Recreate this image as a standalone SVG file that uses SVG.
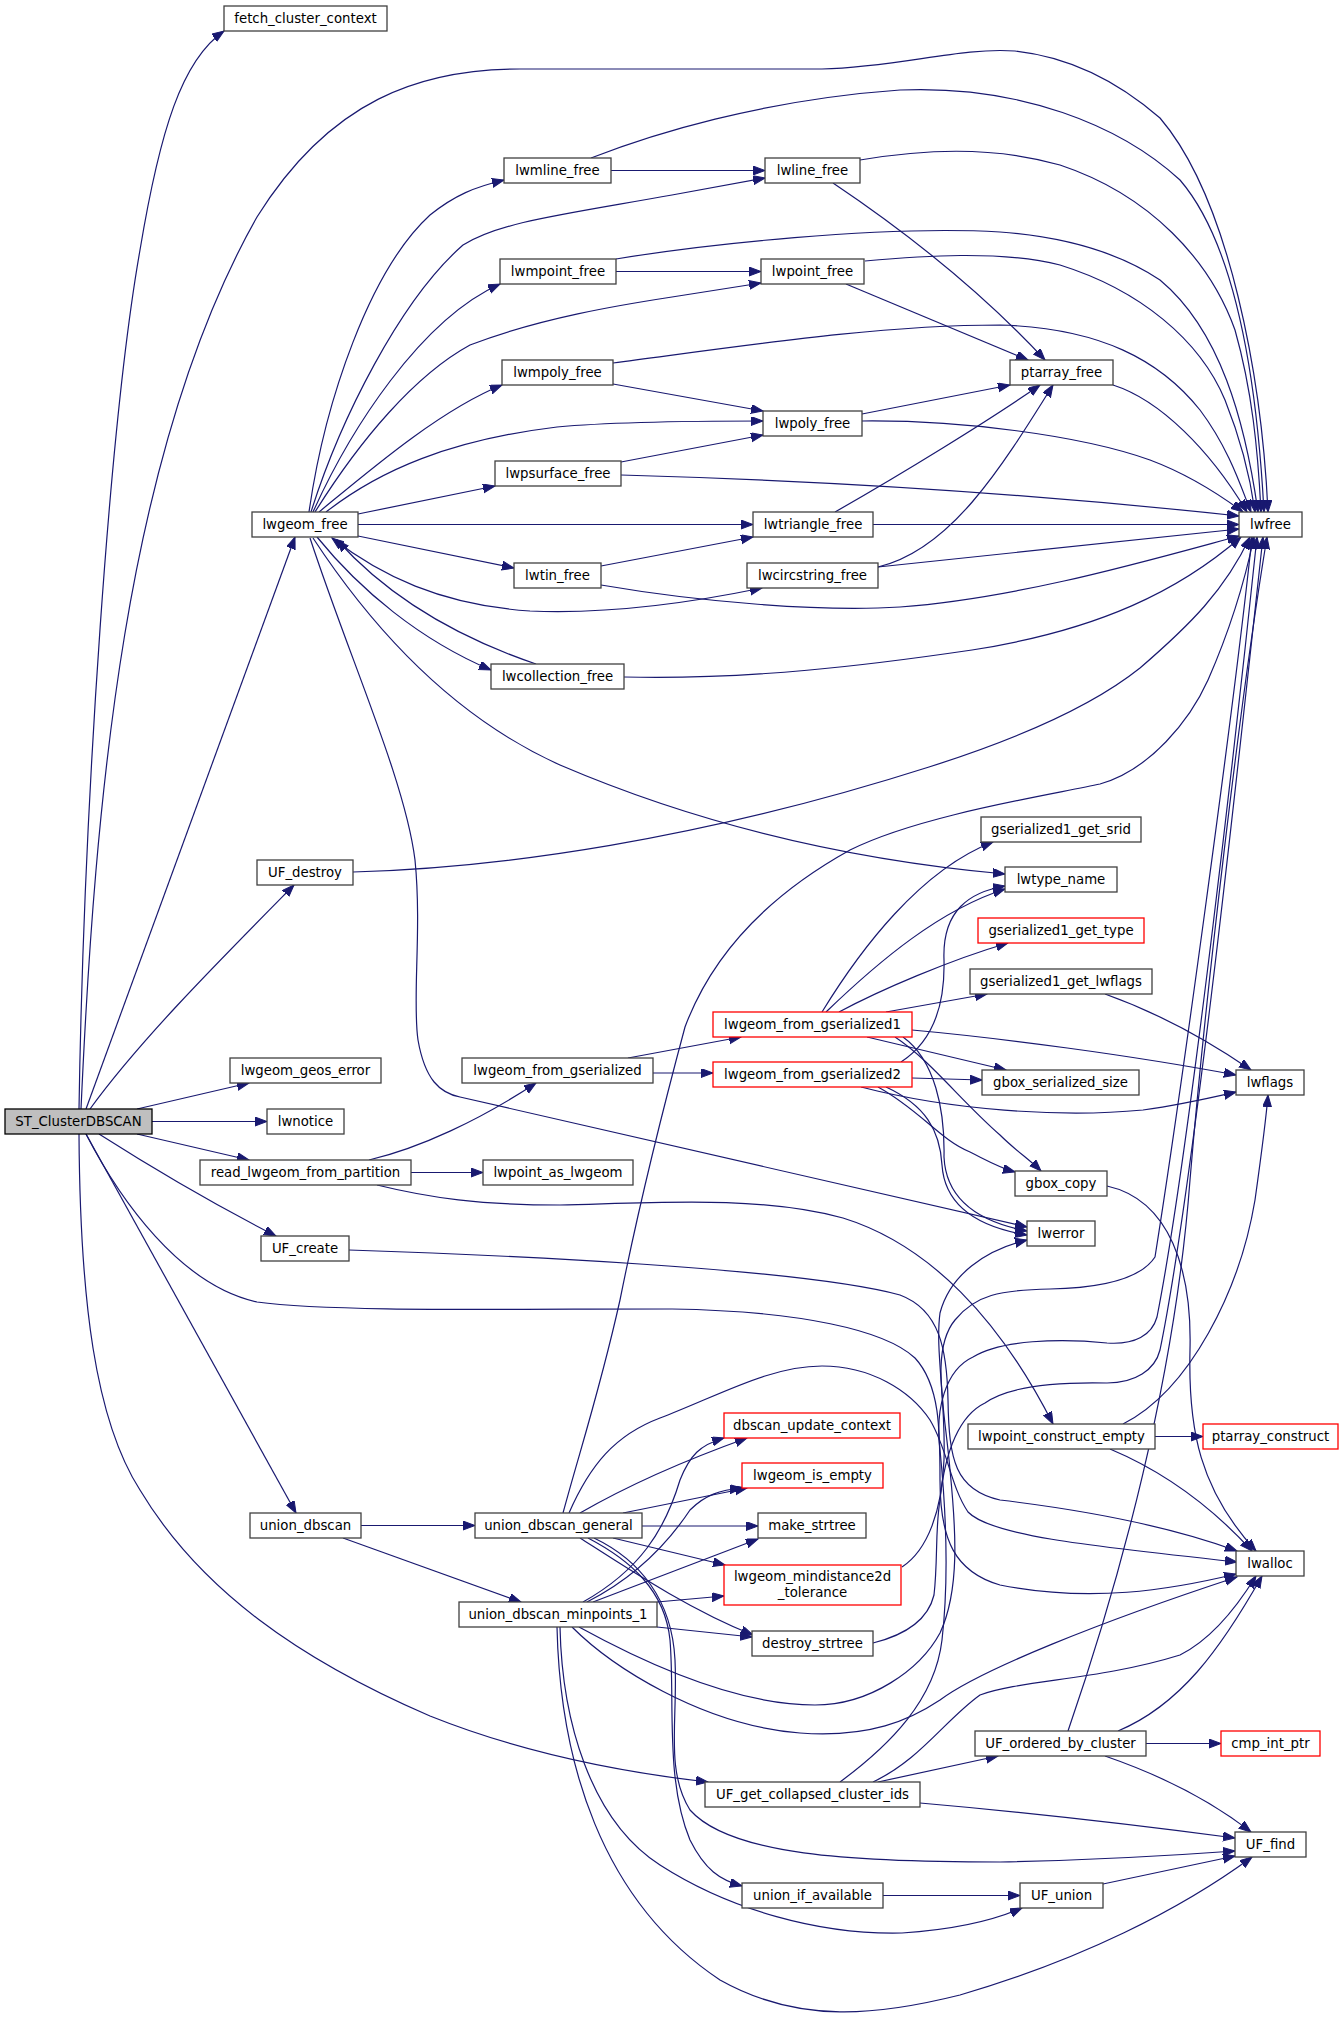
<svg xmlns="http://www.w3.org/2000/svg" width="1344" height="2020" viewBox="0 0 1344 2020">
<style>
.n rect{fill:#fff;stroke:#404040;stroke-width:1.3}
.n.r rect{stroke:#ff0000}
.n.root rect{fill:#bfbfbf;stroke:#000}
.n text{font-family:"DejaVu Sans","Liberation Sans",sans-serif;font-size:13.3px;text-anchor:middle;fill:#000}
#edges path{fill:none;stroke:#191970;stroke-width:1.2;marker-end:url(#a)}
</style>
<defs>
<marker id="a" markerUnits="userSpaceOnUse" markerWidth="13" markerHeight="10" refX="12" refY="4.5" orient="auto-start-reverse"><path d="M0,0 L12,4.5 L0,9 z" fill="#191970" stroke="#191970" stroke-width="1"/></marker>
</defs>
<rect width="1344" height="2020" fill="#fff"/>
<g id="edges">
<path d="M79,1109 C84,800 110,420 140,250 C160,130 182,60 224,31"/>
<path d="M81,1109 C95,800 125,450 257,217 C330,100 420,69 520,69 L822,69 C900,67 960,47 1015,51 C1080,58 1130,92 1160,118 C1230,200 1262,380 1268,512"/>
<path d="M86,1109 L295,537"/>
<path d="M90,1109 C140,1040 220,960 294,885"/>
<path d="M137,1109 L249,1083"/>
<path d="M152,1121.5 L267,1121.5"/>
<path d="M137,1134 L249,1160"/>
<path d="M99,1134 Q190,1192 276,1236"/>
<path d="M86,1134 C120,1200 180,1285 257,1302 C330,1312 500,1309 672,1309 C800,1311 885,1330 915,1358 C940,1385 940,1430 940,1480 C940,1540 955,1572 1000,1585 C1090,1603 1170,1590 1236,1574"/>
<path d="M86,1134 L296,1513"/>
<path d="M79,1134 C80,1300 95,1420 140,1490 C200,1590 300,1660 430,1716 C520,1752 620,1772 708,1782"/>
<path d="M309,512 C325,400 370,270 430,215 C455,195 475,187 504,180"/>
<path d="M311,512 C340,420 400,300 463,245 C500,222 560,215 672,195 L765,178"/>
<path d="M313,512 C350,430 420,320 500,284"/>
<path d="M315,512 C360,440 415,375 470,345 C540,318 620,305 672,297 L761,283"/>
<path d="M319,512 C370,470 440,410 502,385"/>
<path d="M326,512 C380,470 450,440 557,427 C600,423 660,421 763,421"/>
<path d="M358,514 L495,486"/>
<path d="M358,524.5 L753,524.5"/>
<path d="M358,536 L514,568"/>
<path d="M332,538 C380,575 440,605 530,611 C600,614 680,605 762,588" marker-start="url(#a)"/>
<path d="M536,664 C480,645 400,610 337,540"/>
<path d="M317,537 C360,590 420,640 491,670"/>
<path d="M313,538 C380,640 460,720 560,765 C700,825 850,860 1005,874"/>
<path d="M310,538 C350,660 405,780 415,860 C422,930 412,1000 418,1040 C425,1080 440,1093 460,1097 L1027,1227"/>
<path d="M611,170.5 L765,170.5"/>
<path d="M591,158 C650,135 760,100 900,90 C1020,85 1120,125 1180,180 C1240,250 1258,400 1264,512"/>
<path d="M833,183 C900,228 980,290 1045,360"/>
<path d="M860,160 C920,150 990,145 1060,165 C1150,195 1210,260 1235,330 C1252,390 1258,450 1261,512"/>
<path d="M616,271.5 L761,271.5"/>
<path d="M616,259 C700,245 880,225 1000,232 C1080,238 1130,260 1160,280 C1220,330 1245,420 1258,512"/>
<path d="M846,284 L1028,360"/>
<path d="M865,261 C920,256 1000,250 1060,265 C1140,290 1200,340 1225,400 C1245,450 1252,490 1255,512"/>
<path d="M613,384 L763,411"/>
<path d="M613,363 C750,345 880,325 1000,325 C1100,328 1160,360 1200,410 C1230,450 1242,490 1251,512"/>
<path d="M621,462 L763,435"/>
<path d="M621,475 C800,480 1000,490 1239,516"/>
<path d="M1113,385 C1160,400 1210,450 1247,512"/>
<path d="M862,414 L1010,385"/>
<path d="M862,421 C960,420 1080,435 1150,460 C1190,475 1220,495 1243,512"/>
<path d="M835,512 C900,475 990,420 1040,385"/>
<path d="M873,524.5 L1239,524.5"/>
<path d="M601,566 L753,537"/>
<path d="M601,585 C700,602 820,612 900,607 C1020,598 1150,560 1239,536"/>
<path d="M878,567 C950,550 1000,470 1053,385"/>
<path d="M878,567 L1239,529"/>
<path d="M624,677 C750,680 870,665 972,650 C1100,630 1180,590 1241,537"/>
<path d="M353,872 C500,868 700,840 929,767 C1030,735 1100,700 1140,668 C1190,625 1225,590 1250,537"/>
<path d="M628,1058 L741,1037"/>
<path d="M653,1073 L713,1073"/>
<path d="M369,1160 C420,1148 480,1120 536,1083"/>
<path d="M411,1172.5 L483,1172.5"/>
<path d="M377,1185 C430,1198 480,1205 560,1205 C650,1203 760,1195 843,1218 C930,1245 1000,1320 1053,1424"/>
<path d="M822,1012 C860,950 920,870 993,842"/>
<path d="M826,1012 C880,960 940,910 1005,889"/>
<path d="M901,1062 C935,1040 945,1000 944,960 C942,910 970,892 1005,886"/>
<path d="M839,1012 C880,990 950,960 1008,943"/>
<path d="M886,1012 L987,994"/>
<path d="M912,1030 C1000,1038 1130,1055 1236,1075"/>
<path d="M1105,994 C1150,1010 1200,1035 1251,1070"/>
<path d="M867,1037 L1006,1070"/>
<path d="M912,1078 L982,1080"/>
<path d="M861,1087 C950,1110 1060,1118 1143,1110 C1180,1105 1210,1098 1236,1092"/>
<path d="M895,1037 C930,1060 960,1100 1000,1135 C1015,1150 1030,1160 1041,1171"/>
<path d="M878,1087 C920,1110 940,1140 970,1152 C990,1162 1000,1168 1015,1172"/>
<path d="M903,1037 C935,1060 945,1110 944,1157 C946,1200 980,1222 1027,1231"/>
<path d="M886,1087 C925,1105 940,1130 942,1165 C945,1210 985,1228 1027,1235"/>
<path d="M1107,1186 C1170,1200 1192,1270 1190,1350 C1188,1430 1200,1490 1256,1551"/>
<path d="M349,1250 C500,1255 800,1268 900,1295 C940,1310 947,1350 948,1400 C949,1460 955,1490 1000,1500 C1100,1512 1180,1530 1237,1551"/>
<path d="M1155,1436.5 L1203,1436.5"/>
<path d="M1110,1449 C1160,1470 1210,1505 1252,1551"/>
<path d="M1123,1424 C1190,1390 1240,1290 1255,1200 C1262,1150 1266,1120 1268,1095"/>
<path d="M361,1525.5 L475,1525.5"/>
<path d="M343,1538 L521,1602"/>
<path d="M580,1513 C620,1490 680,1462 747,1438"/>
<path d="M623,1513 L747,1488"/>
<path d="M642,1526 L758,1526"/>
<path d="M613,1538 L725,1565"/>
<path d="M580,1538 C630,1570 690,1610 753,1635"/>
<path d="M563,1513 C580,1450 600,1390 620,1300 C640,1200 660,1120 685,1027 C710,960 760,900 850,850 C920,815 1050,795 1100,784 C1150,770 1190,720 1208,680 C1230,630 1245,580 1254,537"/>
<path d="M569,1513 C590,1465 615,1435 660,1418 C720,1395 770,1366 822,1366 C870,1366 910,1390 930,1420 C948,1450 950,1485 968,1512 C990,1535 1080,1545 1237,1562"/>
<path d="M588,1538 C630,1560 665,1590 670,1640 C675,1700 665,1780 690,1840 C705,1870 720,1880 742,1886"/>
<path d="M594,1538 C640,1560 672,1600 675,1660 C678,1720 665,1770 690,1810 C730,1855 850,1862 1000,1862 C1100,1860 1180,1855 1235,1851"/>
<path d="M583,1602 C640,1570 665,1530 680,1480 C690,1455 700,1445 724,1438"/>
<path d="M587,1602 C640,1575 670,1540 690,1510 C705,1495 720,1490 742,1488"/>
<path d="M593,1602 L758,1539"/>
<path d="M657,1602 L724,1596"/>
<path d="M657,1627 L752,1637"/>
<path d="M572,1627 C610,1665 700,1725 800,1733 C870,1738 910,1720 940,1700 C980,1670 1100,1622 1237,1577"/>
<path d="M579,1627 C630,1655 730,1705 815,1705 C870,1705 920,1670 940,1633 C960,1590 956,1530 950,1470 C945,1410 930,1350 955,1320 C975,1295 1000,1290 1050,1289 C1100,1288 1140,1280 1155,1257 C1180,1100 1235,700 1252,537"/>
<path d="M560,1627 C562,1720 590,1820 660,1865 C730,1910 820,1935 902,1933 C950,1930 990,1922 1022,1908"/>
<path d="M557,1627 C560,1760 600,1900 720,1980 C800,2025 880,2015 960,1995 C1080,1960 1180,1910 1252,1857"/>
<path d="M902,1567 C928,1550 942,1510 944,1460 C946,1400 935,1350 940,1313 C950,1275 985,1250 1027,1240"/>
<path d="M873,1643 C905,1635 928,1620 934,1595 C938,1560 935,1530 940,1500 C945,1450 960,1415 985,1403 C1010,1385 1060,1382 1107,1383 C1135,1383 1155,1370 1160,1350 C1195,1180 1245,700 1263,537"/>
<path d="M1146,1743.5 L1221,1743.5"/>
<path d="M1105,1756 C1160,1775 1210,1800 1251,1832"/>
<path d="M1118,1731 C1180,1705 1220,1650 1262,1576"/>
<path d="M1068,1731 C1120,1580 1175,1380 1190,1180 C1205,1000 1240,700 1267,537"/>
<path d="M878,1782 L998,1756"/>
<path d="M920,1803 C1000,1810 1100,1820 1235,1838"/>
<path d="M873,1782 C920,1760 945,1720 980,1695 C1020,1680 1100,1680 1180,1655 C1210,1640 1235,1610 1256,1576"/>
<path d="M840,1782 C890,1745 935,1700 942,1640 C950,1570 945,1500 940,1450 C935,1410 945,1370 973,1357 C1000,1340 1060,1338 1107,1343 C1135,1345 1152,1335 1157,1317 C1190,1150 1240,700 1257,537"/>
<path d="M883,1895.5 L1020,1895.5"/>
<path d="M1103,1884 L1235,1856"/>
</g>
<g id="n1" class="n root"><rect x="5" y="1109" width="147" height="25"/><text x="78.5" y="1126">ST_ClusterDBSCAN</text></g>
<g id="n2" class="n"><rect x="224" y="6" width="163" height="25"/><text x="305.5" y="23">fetch_cluster_context</text></g>
<g id="n3" class="n"><rect x="504" y="158" width="107" height="25"/><text x="557.5" y="175">lwmline_free</text></g>
<g id="n4" class="n"><rect x="765" y="158" width="95" height="25"/><text x="812.5" y="175">lwline_free</text></g>
<g id="n5" class="n"><rect x="500" y="259" width="116" height="25"/><text x="558" y="276">lwmpoint_free</text></g>
<g id="n6" class="n"><rect x="761" y="259" width="103" height="25"/><text x="812.5" y="276">lwpoint_free</text></g>
<g id="n7" class="n"><rect x="502" y="360" width="111" height="25"/><text x="557.5" y="377">lwmpoly_free</text></g>
<g id="n8" class="n"><rect x="1010" y="360" width="103" height="25"/><text x="1061.5" y="377">ptarray_free</text></g>
<g id="n9" class="n"><rect x="763" y="411" width="99" height="25"/><text x="812.5" y="428">lwpoly_free</text></g>
<g id="n10" class="n"><rect x="495" y="461" width="126" height="25"/><text x="558" y="478">lwpsurface_free</text></g>
<g id="n11" class="n"><rect x="252" y="512" width="106" height="25"/><text x="305" y="529">lwgeom_free</text></g>
<g id="n12" class="n"><rect x="1239" y="512" width="63" height="25"/><text x="1270.5" y="529">lwfree</text></g>
<g id="n13" class="n"><rect x="753" y="512" width="120" height="25"/><text x="813" y="529">lwtriangle_free</text></g>
<g id="n14" class="n"><rect x="514" y="563" width="87" height="25"/><text x="557.5" y="580">lwtin_free</text></g>
<g id="n15" class="n"><rect x="747" y="563" width="131" height="25"/><text x="812.5" y="580">lwcircstring_free</text></g>
<g id="n16" class="n"><rect x="491" y="664" width="133" height="25"/><text x="557.5" y="681">lwcollection_free</text></g>
<g id="n17" class="n"><rect x="257" y="860" width="96" height="25"/><text x="305" y="877">UF_destroy</text></g>
<g id="n18" class="n"><rect x="981" y="817" width="160" height="25"/><text x="1061" y="834">gserialized1_get_srid</text></g>
<g id="n19" class="n"><rect x="1005" y="867" width="112" height="25"/><text x="1061" y="884">lwtype_name</text></g>
<g id="n20" class="n r"><rect x="978" y="918" width="166" height="25"/><text x="1061" y="935">gserialized1_get_type</text></g>
<g id="n21" class="n"><rect x="970" y="969" width="182" height="25"/><text x="1061" y="986">gserialized1_get_lwflags</text></g>
<g id="n22" class="n r"><rect x="713" y="1012" width="199" height="25"/><text x="812.5" y="1029">lwgeom_from_gserialized1</text></g>
<g id="n23" class="n"><rect x="462" y="1058" width="191" height="25"/><text x="557.5" y="1075">lwgeom_from_gserialized</text></g>
<g id="n24" class="n r"><rect x="713" y="1062" width="199" height="25"/><text x="812.5" y="1079">lwgeom_from_gserialized2</text></g>
<g id="n25" class="n"><rect x="982" y="1070" width="157" height="25"/><text x="1060.5" y="1087">gbox_serialized_size</text></g>
<g id="n26" class="n"><rect x="1236" y="1070" width="68" height="25"/><text x="1270" y="1087">lwflags</text></g>
<g id="n27" class="n"><rect x="230" y="1058" width="151" height="25"/><text x="305.5" y="1075">lwgeom_geos_error</text></g>
<g id="n28" class="n"><rect x="267" y="1109" width="77" height="25"/><text x="305.5" y="1126">lwnotice</text></g>
<g id="n29" class="n"><rect x="200" y="1160" width="211" height="25"/><text x="305.5" y="1177">read_lwgeom_from_partition</text></g>
<g id="n30" class="n"><rect x="483" y="1160" width="150" height="25"/><text x="558" y="1177">lwpoint_as_lwgeom</text></g>
<g id="n31" class="n"><rect x="1015" y="1171" width="92" height="25"/><text x="1061" y="1188">gbox_copy</text></g>
<g id="n32" class="n"><rect x="1027" y="1221" width="68" height="25"/><text x="1061" y="1238">lwerror</text></g>
<g id="n33" class="n"><rect x="261" y="1236" width="88" height="25"/><text x="305" y="1253">UF_create</text></g>
<g id="n34" class="n"><rect x="968" y="1424" width="187" height="25"/><text x="1061.5" y="1441">lwpoint_construct_empty</text></g>
<g id="n35" class="n r"><rect x="1203" y="1424" width="135" height="25"/><text x="1270.5" y="1441">ptarray_construct</text></g>
<g id="n36" class="n r"><rect x="724" y="1413" width="176" height="25"/><text x="812" y="1430">dbscan_update_context</text></g>
<g id="n37" class="n r"><rect x="742" y="1463" width="141" height="25"/><text x="812.5" y="1480">lwgeom_is_empty</text></g>
<g id="n38" class="n"><rect x="250" y="1513" width="111" height="25"/><text x="305.5" y="1530">union_dbscan</text></g>
<g id="n39" class="n"><rect x="475" y="1513" width="167" height="25"/><text x="558.5" y="1530">union_dbscan_general</text></g>
<g id="n40" class="n"><rect x="758" y="1513" width="108" height="25"/><text x="812" y="1530">make_strtree</text></g>
<g id="n41" class="n r"><rect x="724" y="1565" width="177" height="40"/><text x="812.5" y="1581">lwgeom_mindistance2d</text><text x="812.5" y="1597">_tolerance</text></g>
<g id="n42" class="n"><rect x="1236" y="1551" width="68" height="25"/><text x="1270" y="1568">lwalloc</text></g>
<g id="n43" class="n"><rect x="459" y="1602" width="198" height="25"/><text x="558" y="1619">union_dbscan_minpoints_1</text></g>
<g id="n44" class="n"><rect x="752" y="1631" width="121" height="25"/><text x="812.5" y="1648">destroy_strtree</text></g>
<g id="n45" class="n"><rect x="975" y="1731" width="171" height="25"/><text x="1060.5" y="1748">UF_ordered_by_cluster</text></g>
<g id="n46" class="n r"><rect x="1221" y="1731" width="99" height="25"/><text x="1270.5" y="1748">cmp_int_ptr</text></g>
<g id="n47" class="n"><rect x="705" y="1782" width="215" height="25"/><text x="812.5" y="1799">UF_get_collapsed_cluster_ids</text></g>
<g id="n48" class="n"><rect x="1235" y="1832" width="71" height="25"/><text x="1270.5" y="1849">UF_find</text></g>
<g id="n49" class="n"><rect x="742" y="1883" width="141" height="25"/><text x="812.5" y="1900">union_if_available</text></g>
<g id="n50" class="n"><rect x="1020" y="1883" width="83" height="25"/><text x="1061.5" y="1900">UF_union</text></g>
</svg>
